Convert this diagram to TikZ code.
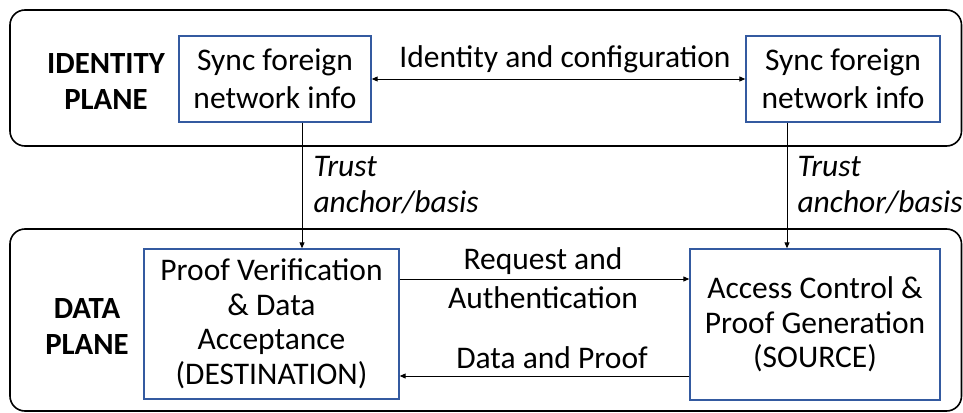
\documentclass[tikz,border=0pt]{standalone}
\usepackage{fontspec}
\setmainfont{Carlito}
\usetikzlibrary{arrows.meta}
\definecolor{boxblue}{RGB}{52,90,160}
\tikzset{
  plane/.style={draw=black, line width=1.6pt, rounded corners=15pt},
  block/.style={draw=boxblue, line width=1.4pt, align=center, inner sep=0pt},
  twoline/.style={font=\fontsize{31.5}{38}\selectfont},
  manyline/.style={font=\fontsize{31.5}{34.5}\selectfont},
  planelabel/.style={align=center, font=\fontsize{30.8}{36}\selectfont\bfseries},
  txt/.style={align=center, font=\fontsize{31.5}{39}\selectfont},
  trust/.style={align=left, anchor=west, font=\fontsize{31.5}{36}\selectfont\itshape},
  link/.style={line width=1pt, -{Triangle[length=6pt,width=5pt]}},
  dlink/.style={line width=1pt, {Triangle[length=6pt,width=5pt]}-{Triangle[length=6pt,width=5pt]}}
}
\begin{document}
\begin{tikzpicture}[x=1pt, y=-1pt]
\useasboundingbox (0,0) rectangle (963,412);

% the two planes
\draw[plane] (10,10) rectangle (961.5,146);
\draw[plane] (10,229) rectangle (961.5,411);

\node[planelabel] (idp) at (106,82) {IDENTITY\\PLANE};
\node[planelabel] (dp) at (87,327) {DATA\\PLANE};

% identity plane blocks
\node[block, twoline, minimum width=192pt, minimum height=86pt] (syncL) at (275,79) {Sync foreign\\network info};
\node[block, twoline, minimum width=194pt, minimum height=86pt] (syncR) at (843,79) {Sync foreign\\network info};

% data plane blocks
\node[block, manyline, minimum width=255pt, minimum height=150pt] (dest) at (271.5,324) {Proof Verification\\\& Data\\Acceptance\\(DESTINATION)};
\node[block, manyline, minimum width=250pt, minimum height=151pt] (src) at (815,324.5) {Access Control \&\\Proof Generation\\(SOURCE)};

% identity exchange
\draw[dlink] (syncL.east |- 0,79) -- (syncR.west |- 0,79);
\node[txt] (idcfg) at (565,59) {Identity and configuration};

% trust anchors
\draw[link] (syncL.south -| 302,0) -- (dest.north -| 302,0);
\draw[link] (syncR.south -| 787,0) -- (src.north -| 787,0);
\node[trust] (trustL) at (310,185) {Trust\\anchor/basis};
\node[trust] (trustR) at (794,185) {Trust\\anchor/basis};

% data plane exchange
\draw[link] (dest.east |- 0,279) -- (src.west |- 0,279);
\draw[link] (src.west |- 0,376) -- (dest.east |- 0,376);
\node[txt] (req) at (543,278) {Request and\\Authentication};
\node[txt] (dat) at (552,358) {Data and Proof};
\end{tikzpicture}
\end{document}
